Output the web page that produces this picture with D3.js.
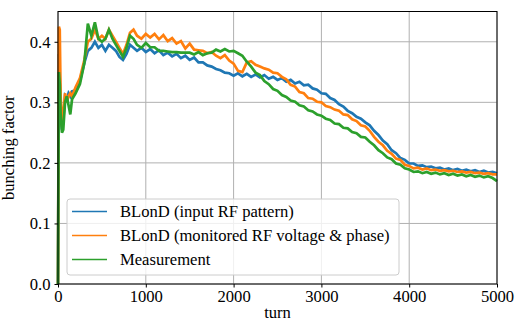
<!DOCTYPE html>
<html>
<head>
<meta charset="utf-8">
<script src="https://cdn.jsdelivr.net/npm/d3@7"></script>
<style>
  body { margin: 0; background: #fff; }
  text { font-family: "Liberation Serif", "DejaVu Serif", serif; }
</style>
</head>
<body>
<div id="chart"></div>
<script>
var svgWidth = 515;
var svgHeight = 322;
var margin = { top: 11.5, right: 18, bottom: 38, left: 58 };
var width = svgWidth - margin.left - margin.right;
var height = svgHeight - margin.top - margin.bottom;
var fontSize = 16.6;

// turn numbers shared by every series
var turns = [0, 10, 20, 30, 45, 60, 80, 100, 120, 140, 160, 200, 250, 300, 340, 380, 420, 460,
  500, 540, 580, 620, 660, 700, 740, 780, 820, 860, 900, 950];
for (var t = 1000; t <= 5000; t += 50) turns.push(t);

var blondInput = [0, 0.38, 0.34, 0.29, 0.255, 0.27, 0.31, 0.305, 0.315, 0.31, 0.318, 0.32, 0.335, 0.365,
  0.385, 0.39, 0.40, 0.39, 0.395, 0.385, 0.395, 0.39, 0.385, 0.375, 0.37, 0.38, 0.395, 0.39, 0.385, 0.39,
  0.383, 0.388, 0.381, 0.386, 0.378, 0.382, 0.376, 0.38, 0.373, 0.377, 0.37, 0.374, 0.366, 0.366, 0.361,
  0.359, 0.355, 0.353, 0.349, 0.348, 0.344, 0.348, 0.343, 0.347, 0.342, 0.346, 0.341, 0.345, 0.339, 0.342,
  0.337, 0.34, 0.334, 0.337, 0.331, 0.334, 0.328, 0.329, 0.323, 0.321, 0.315, 0.314, 0.307, 0.304, 0.297,
  0.293, 0.286, 0.282, 0.276, 0.273, 0.267, 0.262, 0.253, 0.246, 0.237, 0.231, 0.221, 0.216, 0.208, 0.205,
  0.199, 0.199, 0.195, 0.196, 0.193, 0.194, 0.191, 0.192, 0.189, 0.191, 0.188, 0.19, 0.187, 0.189, 0.186,
  0.188, 0.185, 0.187, 0.184, 0.185, 0.183];

var blondMonitored = [0, 0.425, 0.42, 0.31, 0.26, 0.28, 0.315, 0.30, 0.31, 0.315, 0.31, 0.325, 0.34, 0.37,
  0.40, 0.405, 0.42, 0.405, 0.41, 0.405, 0.42, 0.41, 0.40, 0.39, 0.38, 0.395, 0.415, 0.42, 0.41, 0.405,
  0.413, 0.407, 0.413, 0.404, 0.411, 0.401, 0.406, 0.397, 0.401, 0.389, 0.397, 0.387, 0.386, 0.385, 0.381,
  0.383, 0.377, 0.373, 0.378, 0.369, 0.364, 0.352, 0.35, 0.366, 0.368, 0.362, 0.359, 0.356, 0.354, 0.349,
  0.348, 0.342, 0.338, 0.329, 0.326, 0.317, 0.315, 0.307, 0.306, 0.301, 0.3, 0.294, 0.292, 0.288, 0.286,
  0.28, 0.279, 0.272, 0.269, 0.262, 0.26, 0.253, 0.243, 0.235, 0.229, 0.22, 0.215, 0.207, 0.205, 0.197,
  0.195, 0.191, 0.192, 0.189, 0.191, 0.188, 0.189, 0.187, 0.188, 0.186, 0.187, 0.185, 0.186, 0.184, 0.185,
  0.183, 0.184, 0.182, 0.183, 0.181, 0.181];

var measurement = [0, 0.35, 0.33, 0.28, 0.25, 0.255, 0.30, 0.31, 0.295, 0.28, 0.305, 0.315, 0.33, 0.365,
  0.43, 0.41, 0.432, 0.405, 0.40, 0.405, 0.42, 0.405, 0.395, 0.385, 0.375, 0.39, 0.41, 0.405, 0.395, 0.39,
  0.398, 0.391, 0.391, 0.385, 0.385, 0.384, 0.383, 0.383, 0.382, 0.382, 0.382, 0.379, 0.383, 0.378, 0.381,
  0.382, 0.387, 0.384, 0.388, 0.384, 0.385, 0.381, 0.377, 0.367, 0.359, 0.349, 0.345, 0.335, 0.33, 0.322,
  0.319, 0.312, 0.309, 0.303, 0.301, 0.295, 0.293, 0.287, 0.285, 0.28, 0.278, 0.273, 0.271, 0.265, 0.264,
  0.258, 0.257, 0.251, 0.249, 0.243, 0.242, 0.235, 0.229, 0.221, 0.216, 0.209, 0.206, 0.199, 0.197, 0.191,
  0.189, 0.185, 0.186, 0.183, 0.185, 0.182, 0.184, 0.181, 0.183, 0.18, 0.182, 0.179, 0.181, 0.178, 0.18,
  0.177, 0.179, 0.176, 0.178, 0.175, 0.17];

var seriesNames = ["BLonD (input RF pattern)", "BLonD (monitored RF voltage & phase)", "Measurement"];
var seriesColors = ["#1f77b4", "#ff7f0e", "#2ca02c"];
var xTicks = [0, 1000, 2000, 3000, 4000, 5000];
var yTicks = [0.0, 0.1, 0.2, 0.3, 0.4];

var svg = d3.select("#chart").append("svg")
  .attr("width", svgWidth)
  .attr("height", svgHeight);

var chartGroup = svg.append("g")
  .attr("transform", `translate(${margin.left}, ${margin.top})`);

var x = d3.scaleLinear().domain([0, 5000]).range([0, width]);
var y = d3.scaleLinear().domain([0, 0.45]).range([height, 0]);

// grid
chartGroup.append("g").selectAll("line")
  .data(xTicks).enter().append("line")
  .attr("x1", d => x(d)).attr("x2", d => x(d))
  .attr("y1", 0).attr("y2", height)
  .attr("stroke", "#b0b0b0").attr("stroke-width", 1);
chartGroup.append("g").selectAll("line")
  .data(yTicks).enter().append("line")
  .attr("x1", 0).attr("x2", width)
  .attr("y1", d => y(d)).attr("y2", d => y(d))
  .attr("stroke", "#b0b0b0").attr("stroke-width", 1);

// lines
var allSeries = [blondInput, blondMonitored, measurement];
var line = d3.line()
  .x((d, i) => x(turns[i]))
  .y(d => y(d));

allSeries.forEach(function(vals, i) {
  chartGroup.append("path")
    .datum(vals)
    .attr("fill", "none")
    .attr("stroke", seriesColors[i])
    .attr("stroke-width", 2.7)
    .attr("stroke-linejoin", "miter")
    .attr("d", line);
});

// frame
chartGroup.append("rect")
  .attr("width", width).attr("height", height)
  .attr("fill", "none").attr("stroke", "#000").attr("stroke-width", 1);

// axes
var bottomAxis = d3.axisBottom(x).tickValues(xTicks).tickFormat(d3.format("d")).tickSizeOuter(0).tickSize(3.5).tickPadding(3);
var leftAxis = d3.axisLeft(y).tickValues(yTicks).tickFormat(d3.format(".1f")).tickSizeOuter(0).tickSize(3.5).tickPadding(4);

var xAxis = chartGroup.append("g")
  .attr("transform", `translate(0, ${height})`)
  .call(bottomAxis);
var yAxis = chartGroup.append("g").call(leftAxis);

[xAxis, yAxis].forEach(function(a) {
  a.select(".domain").remove();
  a.selectAll("text").attr("font-size", fontSize).attr("fill", "#000")
    .style("font-family", "'Liberation Serif', serif");
  a.selectAll("line").attr("stroke", "#000");
});

// axis labels
chartGroup.append("text")
  .attr("x", width / 2)
  .attr("y", height + 33.5)
  .attr("text-anchor", "middle")
  .attr("font-size", fontSize)
  .text("turn");

chartGroup.append("text")
  .attr("transform", "rotate(-90)")
  .attr("x", -height / 2)
  .attr("y", -44)
  .attr("text-anchor", "middle")
  .attr("font-size", fontSize)
  .text("bunching factor");

// legend
var legend = chartGroup.append("g")
  .attr("transform", `translate(${67 - margin.left}, ${199 - margin.top})`);
legend.append("rect")
  .attr("width", 332).attr("height", 76)
  .attr("rx", 3).attr("ry", 3)
  .attr("fill", "#fff").attr("fill-opacity", 0.8)
  .attr("stroke", "#cccccc").attr("stroke-width", 1);

seriesNames.forEach(function(name, i) {
  var yy = 12.5 + i * 24;
  legend.append("line")
    .attr("x1", 5).attr("x2", 40)
    .attr("y1", yy).attr("y2", yy)
    .attr("stroke", seriesColors[i]).attr("stroke-width", 1.5);
  legend.append("text")
    .attr("x", 53)
    .attr("y", yy + 5.5)
    .attr("font-size", fontSize)
    .text(name);
});
</script>
</body>
</html>
